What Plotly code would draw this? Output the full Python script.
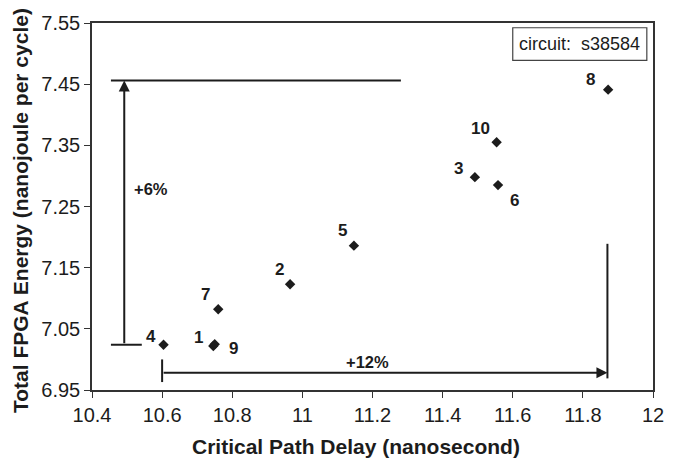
import plotly.graph_objects as go

# ---- data ----
labels = ["1", "2", "3", "4", "5", "6", "7", "8", "9", "10"]
delay = [10.746, 10.965, 11.492, 10.604, 11.147, 11.558, 10.760, 11.872, 10.750, 11.554]
energy = [7.022, 7.123, 7.298, 7.024, 7.186, 7.285, 7.082, 7.441, 7.025, 7.355]

x_ticks = [10.4, 10.6, 10.8, 11.0, 11.2, 11.4, 11.6, 11.8, 12.0]
x_ticktext = ["10.4", "10.6", "10.8", "11", "11.2", "11.4", "11.6", "11.8", "12"]
y_ticks = [6.95, 7.05, 7.15, 7.25, 7.35, 7.45, 7.55]
y_ticktext = ["6.95", "7.05", "7.15", "7.25", "7.35", "7.45", "7.55"]

# range-indicator values (data units)
energy_min, energy_max = 7.024, 7.456
delay_min, delay_max = 10.600, 11.870
energy_label, delay_label = "+6%", "+12%"
circuit_name = "circuit:&nbsp; s38584"

# ---- style ----
INK = "#1c1c1c"
FONT = "Liberation Sans, Arial, Helvetica, sans-serif"

# pixel offsets of point labels relative to markers (dx right, dy down)
label_offsets = {
    "1": (-15, -8), "2": (-11, -15), "3": (-16, -9), "4": (-13, -8),
    "5": (-11, -15), "6": (16, 15), "7": (-13, -15), "8": (-18, -10),
    "9": (19, 4), "10": (-16, -14),
}

fig = go.Figure()
fig.add_trace(go.Scatter(
    x=delay, y=energy, mode="markers",
    marker=dict(symbol="diamond", size=8, color=INK, line=dict(width=0)),
    showlegend=False, hoverinfo="x+y",
))

annotations = []
for lab, xv, yv in zip(labels, delay, energy):
    dx, dy = label_offsets[lab]
    annotations.append(dict(
        x=xv, y=yv, xref="x", yref="y", text="<b>" + lab + "</b>", showarrow=False,
        xshift=dx, yshift=-dy, xanchor="center", yanchor="middle",
        font=dict(family=FONT, size=17, color=INK),
    ))

# vertical energy arrow
annotations.append(dict(
    x=10.492, y=energy_max, ax=10.492, ay=energy_min, xref="x", yref="y",
    axref="x", ayref="y", text="", showarrow=True, arrowhead=2,
    arrowsize=1.1, arrowwidth=2, arrowcolor=INK, standoff=0, startstandoff=0,
))
annotations.append(dict(
    x=10.513, y=7.278, xref="x", yref="y", text="<b>" + energy_label + "</b>",
    showarrow=False, xanchor="left", yanchor="middle",
    font=dict(family=FONT, size=16.5, color=INK),
))
# horizontal delay arrow
annotations.append(dict(
    x=delay_max, y=6.978, ax=delay_min, ay=6.978, xref="x", yref="y",
    axref="x", ayref="y", text="", showarrow=True, arrowhead=2,
    arrowsize=1.1, arrowwidth=2, arrowcolor=INK, standoff=0, startstandoff=0,
))
annotations.append(dict(
    x=11.187, y=6.995, xref="x", yref="y", text="<b>" + delay_label + "</b>",
    showarrow=False, xanchor="center", yanchor="middle",
    font=dict(family=FONT, size=16.5, color=INK),
))
# circuit box text
annotations.append(dict(
    x=0.8695, y=0.9425, xref="paper", yref="paper", text=circuit_name,
    showarrow=False, xanchor="center", yanchor="middle",
    font=dict(family=FONT, size=18, color=INK),
))
# axis titles
annotations.append(dict(
    x=(356 - 92) / 561, y=0, xref="paper", yref="paper",
    text="<b>Critical Path Delay (nanosecond)</b>",
    showarrow=False, xanchor="center", yanchor="top", yshift=-43,
    font=dict(family=FONT, size=21, color=INK),
))
annotations.append(dict(
    x=0, y=0.5, xref="paper", yref="paper",
    text="<b>Total FPGA Energy (nanojoule per cycle)</b>",
    showarrow=False, textangle=-90, xanchor="right", yanchor="middle",
    xshift=-58, yshift=-4,
    font=dict(family=FONT, size=21, color=INK),
))

line_style = dict(color=INK, width=2)
shapes = [
    # top reference line
    dict(type="line", xref="x", yref="y", x0=10.454, x1=11.281,
         y0=energy_max, y1=energy_max, line=line_style),
    # bottom cap of energy arrow
    dict(type="line", xref="x", yref="y", x0=10.454, x1=10.542,
         y0=energy_min, y1=energy_min, line=line_style),
    # left cap of delay arrow
    dict(type="line", xref="x", yref="y", x0=delay_min, x1=delay_min,
         y0=6.963, y1=7.000, line=line_style),
    # right reference line
    dict(type="line", xref="x", yref="y", x0=delay_max, x1=delay_max,
         y0=6.969, y1=7.189, line=line_style),
    # circuit box
    dict(type="rect", xref="paper", yref="paper", x0=0.750, x1=0.989,
         y0=0.898, y1=0.987, line=dict(color="#444", width=1.2),
         fillcolor="white", layer="below"),
]

fig.update_layout(
    width=682, height=459,
    margin=dict(l=92, r=29, t=18, b=69, pad=0),
    paper_bgcolor="white", plot_bgcolor="white",
    font=dict(family=FONT, color=INK),
    annotations=annotations, shapes=shapes,
    showlegend=False,
)
fig.update_xaxes(
    range=[10.4, 12.0], tickvals=x_ticks, ticktext=x_ticktext,
    showgrid=False, zeroline=False, showline=True, mirror=True,
    linecolor="#333", linewidth=1.5, ticks="outside", ticklen=6,
    tickwidth=1.2, tickcolor="#333",
    tickfont=dict(family=FONT, size=20, color=INK),
)
fig.update_yaxes(
    range=[6.95, 7.55], tickvals=y_ticks, ticktext=y_ticktext,
    showgrid=False, zeroline=False, showline=True, mirror=True,
    linecolor="#333", linewidth=1.5, ticks="outside", ticklen=6,
    tickwidth=1.2, tickcolor="#333",
    tickfont=dict(family=FONT, size=20, color=INK),
)

fig.write_html("out.html")
